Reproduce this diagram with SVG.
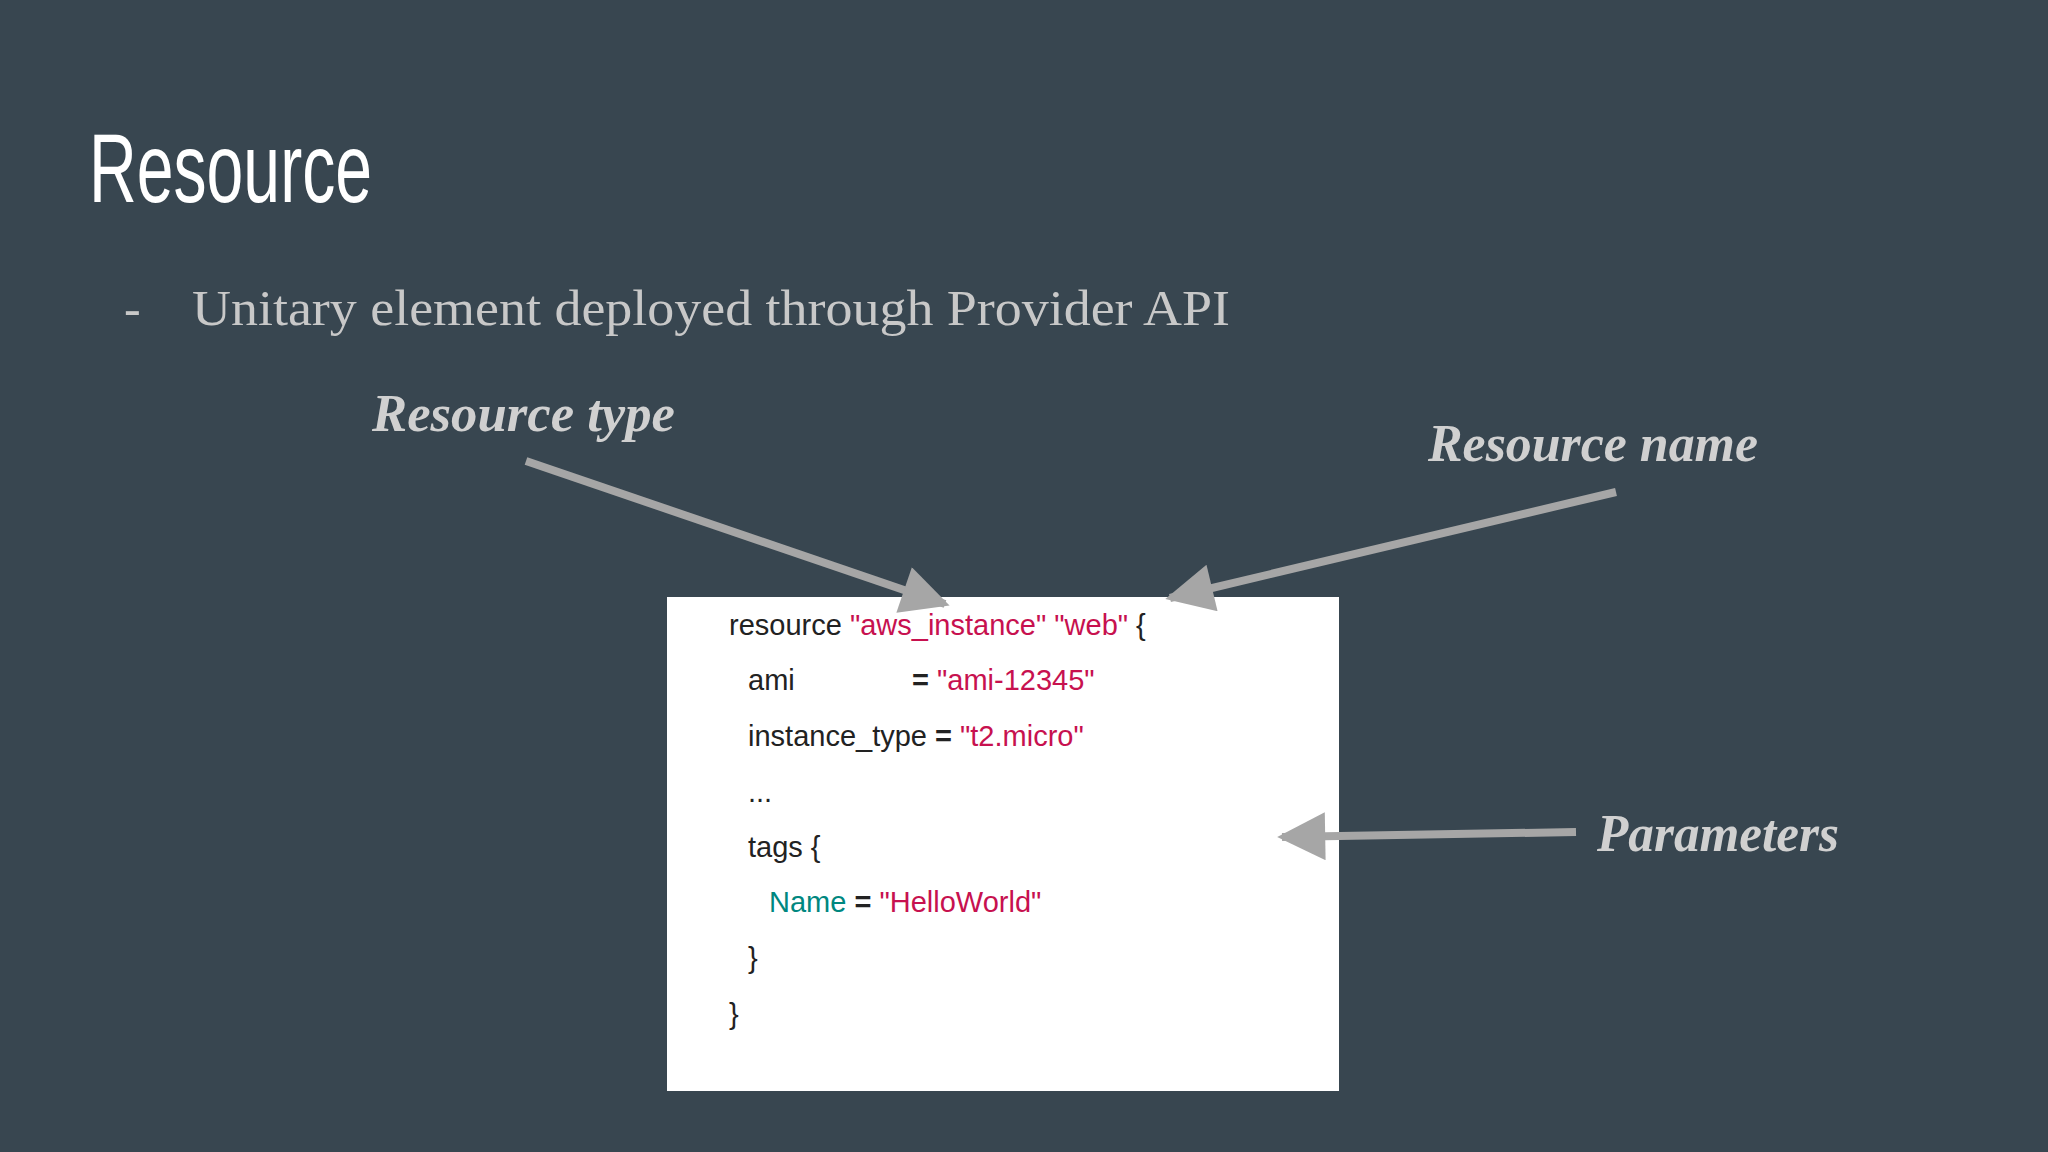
<svg xmlns="http://www.w3.org/2000/svg" width="2048" height="1152" viewBox="0 0 2048 1152">
<style>
.lbl{font-family:"Liberation Serif",serif;font-style:italic;font-weight:bold;fill:#d0d0d0;font-size:52px}
.code{font-family:"Liberation Sans",sans-serif;font-size:29px;fill:#222}
.s{fill:#c7114f}.k{fill:#00877f}.b{font-weight:bold}
.arr{stroke:#a6a6a6;stroke-width:8;fill:none;marker-end:url(#ah)}
</style>
<defs>
<marker id="ah" viewBox="0 0 10 10" refX="9" refY="5" markerWidth="7" markerHeight="6" markerUnits="strokeWidth" orient="auto">
<path d="M0,0 L10,5 L0,10 z" fill="#a6a6a6"/>
</marker>
</defs>
<rect width="2048" height="1152" fill="#384650"/>
<g id="title"><text x="89" y="202" font-family="Liberation Sans Narrow,Liberation Sans,sans-serif" font-size="98" fill="#ffffff" textLength="283" lengthAdjust="spacingAndGlyphs">Resource</text></g>
<g id="bullet" font-family="Liberation Serif,serif" font-size="50" fill="#c8c8c8">
<text x="124" y="325">-</text>
<text x="192" y="325" textLength="1038" lengthAdjust="spacingAndGlyphs">Unitary element deployed through Provider API</text>
</g>
<g id="code-box">
<rect x="667" y="597" width="672" height="494" fill="#ffffff"/>
<text class="code" x="729" y="635">resource <tspan class="s">"aws_instance"</tspan> <tspan class="s">"web"</tspan> {</text>
<text class="code" x="748" y="690">ami</text>
<text class="code" x="912" y="690"><tspan class="b">=</tspan> <tspan class="s">"ami-12345"</tspan></text>
<text class="code" x="748" y="746">instance_type <tspan class="b">=</tspan> <tspan class="s">"t2.micro"</tspan></text>
<text class="code" x="748" y="802">...</text>
<text class="code" x="748" y="857">tags {</text>
<text class="code" x="769" y="912"><tspan class="k">Name</tspan> <tspan class="b">=</tspan> <tspan class="s">"HelloWorld"</tspan></text>
<text class="code" x="748" y="968">}</text>
<text class="code" x="729" y="1024">}</text>
</g>
<g id="label-type"><text class="lbl" x="372" y="431" textLength="303" lengthAdjust="spacingAndGlyphs">Resource type</text></g>
<g id="label-name"><text class="lbl" x="1428" y="461" textLength="330" lengthAdjust="spacingAndGlyphs">Resource name</text></g>
<g id="label-params"><text class="lbl" x="1597" y="851" textLength="242" lengthAdjust="spacingAndGlyphs">Parameters</text></g>
<g id="connectors">
<line class="arr" x1="526" y1="461" x2="945" y2="604"/>
<line class="arr" x1="1616" y1="492" x2="1170" y2="598"/>
<line class="arr" x1="1576" y1="832" x2="1282" y2="837"/>
</g>
</svg>
